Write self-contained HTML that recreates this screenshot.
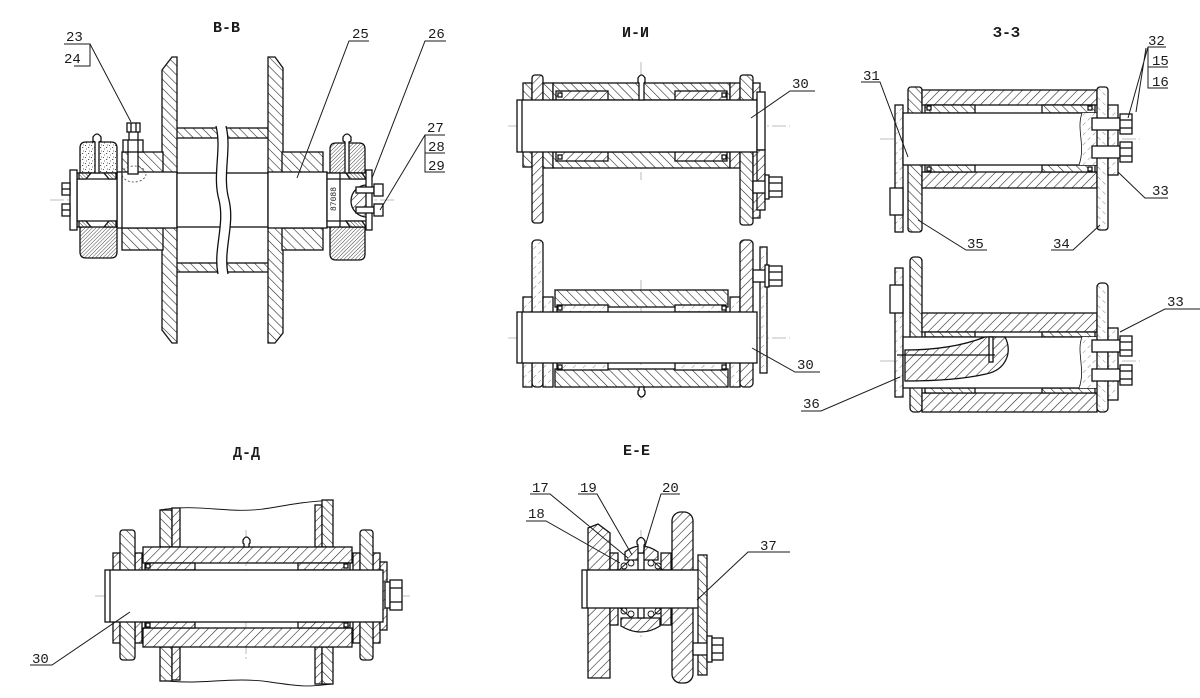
<!DOCTYPE html>
<html><head><meta charset="utf-8">
<style>
html,body{margin:0;padding:0;background:#fff;}
svg{display:block}
text{font-family:"Liberation Mono","DejaVu Sans Mono",monospace;fill:#1a1a1a;font-size:14px;}
.t{font-size:15px;font-weight:bold;}
.o{fill:#fff;stroke:#111;stroke-width:1.3}
.n{fill:none;stroke:#111;stroke-width:1.3}
.a{fill:url(#A);stroke:#111;stroke-width:1.3}
.b{fill:url(#B);stroke:#111;stroke-width:1.3}
.d{fill:url(#D);stroke:#111;stroke-width:1.3}
.e{fill:url(#E);stroke:#111;stroke-width:1.3}
.l{fill:url(#L);stroke:#111;stroke-width:1.3}
.m{fill:url(#M);stroke:#111;stroke-width:1.3}
.s{fill:url(#S);stroke:#111;stroke-width:1.3}
.c{stroke:#aaa;stroke-width:0.8;stroke-dasharray:14 3 2 3;fill:none}
.ld{stroke:#1a1a1a;stroke-width:1;fill:none}
</style></head><body>
<svg width="1200" height="698" viewBox="0 0 1200 698" xmlns="http://www.w3.org/2000/svg">
<defs>
<pattern id="A" width="6.5" height="6.5" patternUnits="userSpaceOnUse" patternTransform="rotate(45)"><rect width="6.5" height="6.5" fill="#fff"/><line x1="0" y1="0" x2="0" y2="6.5" stroke="#222" stroke-width="1.15"/></pattern>
<pattern id="B" width="6.5" height="6.5" patternUnits="userSpaceOnUse" patternTransform="rotate(-45)"><rect width="6.5" height="6.5" fill="#fff"/><line x1="0" y1="0" x2="0" y2="6.5" stroke="#222" stroke-width="1.15"/></pattern>
<pattern id="D" width="2.6" height="2.6" patternUnits="userSpaceOnUse" patternTransform="rotate(45)"><rect width="2.6" height="2.6" fill="#fff"/><line x1="0" y1="0" x2="0" y2="2.6" stroke="#333" stroke-width="0.9"/></pattern>
<pattern id="E" width="2.6" height="2.6" patternUnits="userSpaceOnUse" patternTransform="rotate(-45)"><rect width="2.6" height="2.6" fill="#fff"/><line x1="0" y1="0" x2="0" y2="2.6" stroke="#333" stroke-width="0.9"/></pattern>
<pattern id="L" width="7" height="7" patternUnits="userSpaceOnUse" patternTransform="rotate(45)"><rect width="7" height="7" fill="#fff"/><line x1="0" y1="0" x2="0" y2="7" stroke="#777" stroke-width="0.9" stroke-dasharray="2 3"/></pattern>
<pattern id="M" width="7" height="7" patternUnits="userSpaceOnUse" patternTransform="rotate(-45)"><rect width="7" height="7" fill="#fff"/><line x1="0" y1="0" x2="0" y2="7" stroke="#777" stroke-width="0.9" stroke-dasharray="2 3"/></pattern>
<pattern id="S" width="6" height="6" patternUnits="userSpaceOnUse"><rect width="6" height="6" fill="#fff"/><rect x="1" y="1" width="1" height="1" fill="#555"/><rect x="4" y="3" width="1.2" height="1" fill="#555"/><rect x="2" y="4.5" width="1" height="1" fill="#777"/><rect x="5" y="0.5" width="1" height="1" fill="#777"/></pattern>
</defs>
<rect width="1200" height="698" fill="#fff"/>

<!-- ================= B-B ================= -->
<text class="t" x="213" y="32">B-B</text>
<line class="c" x1="50" y1="200" x2="395" y2="200"/>
<rect class="b" x="173" y="128" width="99" height="10"/>
<rect class="b" x="173" y="263" width="99" height="9"/>
<polygon class="b" points="162,70 172,57 177,57 177,343 172,343 162,330"/>
<polygon class="b" points="268,57 275,57 283,68 283,333 275,343 268,343"/>
<rect class="b" x="122" y="152" width="41" height="21"/>
<rect class="b" x="122" y="228" width="41" height="22"/>
<rect class="b" x="282" y="152" width="41" height="21"/>
<rect class="b" x="282" y="228" width="41" height="22"/>
<rect class="o" x="117" y="172" width="60" height="56"/>
<rect class="o" x="177" y="173" width="91" height="54"/>
<rect class="o" x="268" y="172" width="59" height="56"/>
<line class="n" x1="122" y1="172" x2="122" y2="228"/>
<path d="M216,124 C222,150 212,175 219,200 C225,225 213,250 218,276 L228,276 C223,250 235,225 229,200 C222,175 232,150 226,124 Z" fill="#fff" stroke="none"/>
<path class="n" d="M216,126 C222,150 212,175 219,200 C225,225 213,250 218,274"/>
<path class="n" d="M226,126 C232,150 222,175 229,200 C235,225 223,250 228,274"/>
<rect class="o" x="128" y="150" width="10" height="24"/>
<ellipse cx="134" cy="174" rx="12" ry="8" fill="none" stroke="#444" stroke-width="0.8" stroke-dasharray="2 2"/>
<rect class="o" x="129" y="131" width="9" height="10"/>
<rect class="o" x="127" y="123" width="13" height="9"/>
<line class="n" x1="131" y1="123" x2="131" y2="132"/><line class="n" x1="136" y1="123" x2="136" y2="132"/>
<rect class="o" x="123" y="140" width="20" height="12"/>
<line class="n" x1="128" y1="140" x2="128" y2="152"/><line class="n" x1="138" y1="140" x2="138" y2="152"/>
<path class="s" d="M80,173 L80,148 Q80,142 86,142 L111,142 Q117,142 117,148 L117,173 Z"/>
<path class="d" d="M80,226 L80,252 Q80,258 86,258 L111,258 Q117,258 117,252 L117,226 Z"/>
<rect class="o" x="77" y="173" width="40" height="54"/>
<line class="n" x1="77" y1="179" x2="117" y2="179"/><line class="n" x1="77" y1="221" x2="117" y2="221"/>
<path class="e" d="M79,173 L91,173 L86,179 L79,179 Z"/><path class="e" d="M104,173 L116,173 L116,179 L109,179 Z"/>
<path class="e" d="M79,221 L86,221 L91,227 L79,227 Z"/><path class="e" d="M109,221 L116,221 L116,227 L104,227 Z"/>
<rect class="o" x="70" y="170" width="7" height="60"/>
<rect class="o" x="62" y="183" width="8" height="12"/><line class="n" x1="62" y1="189" x2="70" y2="189"/>
<rect class="o" x="62" y="204" width="8" height="12"/><line class="n" x1="62" y1="210" x2="70" y2="210"/>
<path class="o" d="M95,173 V142 L93,141 V137 Q97,131 101,137 V141 L99,142 V173 Z"/>
<path class="d" d="M330,173 V149 Q330,143 336,143 H359 Q365,143 365,149 V173 Z"/>
<path class="d" d="M330,227 V254 Q330,260 336,260 H359 Q365,260 365,254 V227 Z"/>
<rect class="o" x="327" y="173" width="41" height="54"/>
<line class="n" x1="340" y1="173" x2="340" y2="227"/>
<line class="n" x1="327" y1="179" x2="368" y2="179"/><line class="n" x1="327" y1="221" x2="368" y2="221"/>
<path class="e" d="M346,173 L362,173 L366,179 L350,179 Z"/><path class="e" d="M346,221 L362,221 L366,227 L350,227 Z"/>
<path class="a" d="M367,185 A16,16 0 0 0 367,217 Z"/>
<text x="0" y="0" transform="translate(336,211) rotate(-90)" style="font-size:8px">87088</text>
<rect class="o" x="366" y="170" width="6" height="60"/>
<rect class="o" x="356" y="187" width="18" height="6"/><rect class="o" x="374" y="184" width="9" height="12"/>
<rect class="o" x="356" y="207" width="18" height="6"/><rect class="o" x="374" y="204" width="9" height="12"/>
<path class="o" d="M345,173 V142 L343,141 V137 Q347,131 351,137 V141 L349,142 V173 Z"/>
<text x="66" y="41">23</text><text x="64" y="63">24</text>
<path class="ld" d="M64,44 H90 V66 H74 M90,44 L131,122"/>
<text x="352" y="38">25</text><path class="ld" d="M369,41 H349 L297,178"/>
<text x="428" y="38">26</text><path class="ld" d="M446,41 H425 L372,178"/>
<text x="427" y="132">27</text><text x="428" y="151">28</text><text x="428" y="170">29</text>
<path class="ld" d="M445,135 H425 V172 H445 M425,153 H445 M425,135 L380,210"/>

<!-- ================= И-И ================= -->
<text class="t" x="622" y="37">И-И</text>
<line class="c" x1="508" y1="126" x2="790" y2="126"/>
<line class="c" x1="641" y1="62" x2="641" y2="180"/>
<line class="c" x1="508" y1="338" x2="790" y2="338"/>
<line class="c" x1="641" y1="280" x2="641" y2="400"/>
<rect class="b" x="523" y="83" width="9" height="84"/>
<rect class="a" x="532" y="75" width="11" height="148" rx="3"/>
<rect class="b" x="543" y="83" width="10" height="85"/>
<rect class="b" x="553" y="83" width="177" height="17"/>
<rect class="a" x="556" y="91" width="52" height="9"/>
<rect class="a" x="675" y="91" width="52" height="9"/>
<rect class="b" x="553" y="152" width="177" height="16"/>
<rect class="a" x="556" y="152" width="52" height="9"/>
<rect class="a" x="675" y="152" width="52" height="9"/>
<rect class="a" x="730" y="83" width="10" height="85"/>
<rect class="b" x="740" y="75" width="13" height="150" rx="3"/>
<rect class="a" x="753" y="83" width="7" height="135"/>
<rect class="o" x="517" y="100" width="240" height="52"/>
<path class="n" d="M522,100 V152"/>
<rect class="o" x="757" y="92" width="8" height="58"/>
<rect class="a" x="757" y="150" width="8" height="60"/>
<rect class="o" x="558" y="93" width="4" height="4"/><rect class="o" x="722" y="93" width="4" height="4"/>
<rect class="o" x="558" y="155" width="4" height="4"/><rect class="o" x="722" y="155" width="4" height="4"/>
<path class="o" d="M639,100 V83 L638,82 V78 Q641.5,72 645,78 V82 L644,83 V100 Z"/>
<rect class="o" x="753" y="181" width="14" height="12"/>
<rect class="o" x="765" y="175" width="4" height="24"/>
<rect class="o" x="769" y="177" width="13" height="20"/><line class="n" x1="769" y1="183" x2="782" y2="183"/><line class="n" x1="769" y1="191" x2="782" y2="191"/>
<rect class="l" x="532" y="240" width="11" height="147" rx="4"/>
<rect class="l" x="523" y="297" width="9" height="90"/>
<rect class="l" x="543" y="297" width="10" height="90"/>
<rect class="b" x="555" y="290" width="173" height="17"/>
<rect class="l" x="557" y="305" width="51" height="7"/>
<rect class="l" x="675" y="305" width="51" height="7"/>
<rect class="b" x="555" y="369" width="173" height="18"/>
<rect class="l" x="557" y="363" width="51" height="7"/>
<rect class="l" x="675" y="363" width="51" height="7"/>
<rect class="l" x="730" y="297" width="10" height="90"/>
<rect class="a" x="740" y="240" width="13" height="147" rx="4"/>
<rect class="o" x="517" y="312" width="240" height="51"/>
<path class="n" d="M522,312 V363"/>
<rect class="l" x="760" y="247" width="7" height="126"/>
<rect class="o" x="558" y="306" width="4" height="4"/><rect class="o" x="722" y="306" width="4" height="4"/>
<rect class="o" x="558" y="365" width="4" height="4"/><rect class="o" x="722" y="365" width="4" height="4"/>
<path class="o" d="M639,387 V390 L638,391 V394 Q641.5,400 645,394 V391 L644,390 V387 Z"/>
<rect class="o" x="753" y="270" width="14" height="12"/>
<rect class="o" x="765" y="265" width="4" height="22"/>
<rect class="o" x="769" y="266" width="13" height="20"/><line class="n" x1="769" y1="272" x2="782" y2="272"/><line class="n" x1="769" y1="280" x2="782" y2="280"/>
<text x="792" y="88">30</text><path class="ld" d="M815,91 H790 L751,118"/>
<text x="797" y="369">30</text><path class="ld" d="M820,372 H795 L752,348"/>

<!-- ================= З-З ================= -->
<text class="t" x="993" y="37">З-З</text>
<line class="c" x1="880" y1="139" x2="1140" y2="139"/>
<line class="c" x1="880" y1="361" x2="1140" y2="361"/>
<rect class="l" x="895" y="105" width="8" height="127"/>
<rect class="o" x="890" y="188" width="13" height="27"/>
<rect class="b" x="908" y="87" width="14" height="145" rx="3"/>
<rect class="a" x="922" y="90" width="175" height="15"/>
<rect class="b" x="925" y="105" width="50" height="8"/>
<rect class="b" x="1042" y="105" width="53" height="8"/>
<rect class="a" x="922" y="172" width="175" height="16"/>
<rect class="b" x="925" y="165" width="50" height="7"/>
<rect class="b" x="1042" y="165" width="53" height="7"/>
<rect class="o" x="903" y="113" width="194" height="52"/>
<path class="l" d="M1082,113 C1076,130 1086,145 1079,165 L1097,165 L1097,113 Z" style="stroke:none"/>
<path class="n" d="M1082,113 C1076,130 1086,145 1079,165" style="stroke-width:0.8"/>
<rect class="m" x="1097" y="87" width="11" height="143" rx="3"/>
<rect class="l" x="1108" y="105" width="10" height="70"/>
<rect class="o" x="1092" y="118" width="28" height="12"/><rect class="o" x="1092" y="146" width="28" height="12"/>
<rect class="o" x="1120" y="114" width="12" height="20"/><line class="n" x1="1120" y1="120" x2="1132" y2="120"/><line class="n" x1="1120" y1="128" x2="1132" y2="128"/>
<rect class="o" x="1120" y="142" width="12" height="20"/><line class="n" x1="1120" y1="148" x2="1132" y2="148"/><line class="n" x1="1120" y1="156" x2="1132" y2="156"/>
<rect class="o" x="927" y="106" width="4" height="4"/><rect class="o" x="1088" y="106" width="4" height="4"/>
<rect class="o" x="927" y="167" width="4" height="4"/><rect class="o" x="1088" y="167" width="4" height="4"/>
<rect class="b" x="910" y="257" width="12" height="155" rx="4"/>
<rect class="l" x="895" y="268" width="8" height="129"/>
<rect class="o" x="890" y="285" width="13" height="28"/>
<rect class="a" x="922" y="313" width="175" height="19"/>
<rect class="b" x="925" y="332" width="50" height="5"/>
<rect class="b" x="1042" y="332" width="53" height="5"/>
<rect class="a" x="922" y="393" width="175" height="19"/>
<rect class="b" x="925" y="388" width="50" height="5"/>
<rect class="b" x="1042" y="388" width="53" height="5"/>
<rect class="o" x="903" y="337" width="194" height="51"/>
<path class="a" d="M905,350 C935,350 962,346 985,337 L1005,337 C1013,352 1006,370 986,374 C960,380 930,381 905,381 Z"/>
<rect class="o" x="989" y="337" width="4" height="25"/>
<line class="n" x1="897" y1="355" x2="995" y2="355"/>
<path class="l" d="M1082,337 C1076,352 1086,370 1079,388 L1097,388 L1097,337 Z" style="stroke:none"/>
<path class="n" d="M1082,337 C1076,352 1086,370 1079,388" style="stroke-width:0.8"/>
<rect class="m" x="1097" y="283" width="11" height="129" rx="4"/>
<rect class="l" x="1108" y="328" width="10" height="72"/>
<rect class="o" x="1092" y="340" width="28" height="12"/><rect class="o" x="1092" y="369" width="28" height="12"/>
<rect class="o" x="1120" y="336" width="12" height="20"/><line class="n" x1="1120" y1="342" x2="1132" y2="342"/><line class="n" x1="1120" y1="350" x2="1132" y2="350"/>
<rect class="o" x="1120" y="365" width="12" height="20"/><line class="n" x1="1120" y1="371" x2="1132" y2="371"/><line class="n" x1="1120" y1="379" x2="1132" y2="379"/>
<text x="1148" y="45">32</text><text x="1152" y="65">15</text><text x="1152" y="86">16</text>
<path class="ld" d="M1166,47 H1148 V88 H1168 M1148,67 H1168 M1148,47 L1128,118 M1146,48 L1136,112"/>
<text x="863" y="80">31</text><path class="ld" d="M861,82 H880 L908,157"/>
<text x="1152" y="195">33</text><path class="ld" d="M1168,198 H1145 L1118,172"/>
<text x="967" y="248">35</text><path class="ld" d="M987,250 H966 L918,220"/>
<text x="1053" y="248">34</text><path class="ld" d="M1051,250 H1073 L1100,225"/>
<text x="1167" y="306">33</text><path class="ld" d="M1200,309 H1165 L1120,332"/>
<text x="803" y="408">36</text><path class="ld" d="M801,411 H821 L900,377"/>

<!-- ================= Д-Д ================= -->
<text class="t" x="233" y="457">Д-Д</text>
<line class="c" x1="95" y1="596" x2="410" y2="596"/>
<line class="c" x1="246" y1="530" x2="246" y2="660"/>
<path class="n" d="M160,510 C200,503 230,515 270,508 S310,502 333,500" style="stroke-width:0.9"/>
<path class="n" d="M160,680 C200,686 230,676 270,682 S310,686 333,684" style="stroke-width:0.9"/>
<rect class="b" x="160" y="510" width="12" height="37"/><rect class="a" x="172" y="508" width="8" height="39"/>
<rect class="b" x="160" y="647" width="12" height="34"/><rect class="a" x="172" y="647" width="8" height="33"/>
<rect class="a" x="315" y="505" width="7" height="42"/><rect class="b" x="322" y="500" width="11" height="47"/>
<rect class="a" x="315" y="647" width="7" height="37"/><rect class="b" x="322" y="647" width="11" height="37"/>
<rect class="a" x="143" y="547" width="209" height="16"/>
<rect class="a" x="145" y="563" width="50" height="7"/><rect class="a" x="298" y="563" width="52" height="7"/>
<rect class="a" x="143" y="628" width="209" height="19"/>
<rect class="a" x="145" y="622" width="50" height="6"/><rect class="a" x="298" y="622" width="52" height="6"/>
<rect class="a" x="113" y="553" width="7" height="90"/><rect class="a" x="135" y="553" width="7" height="90"/>
<rect class="b" x="120" y="530" width="15" height="130" rx="3"/>
<rect class="a" x="353" y="553" width="7" height="90"/><rect class="a" x="373" y="553" width="7" height="90"/>
<rect class="b" x="360" y="530" width="13" height="130" rx="3"/>
<rect class="a" x="380" y="562" width="7" height="68"/>
<rect class="o" x="105" y="570" width="278" height="52"/>
<path class="n" d="M110,570 V622"/>
<rect class="o" x="146" y="564" width="4" height="4"/><rect class="o" x="344" y="564" width="4" height="4"/>
<rect class="o" x="146" y="623" width="4" height="4"/><rect class="o" x="344" y="623" width="4" height="4"/>
<path class="o" d="M244,547 V544 L243,543 V540 Q246.5,534 250,540 V543 L249,544 V547 Z"/>
<rect class="o" x="385" y="582" width="5" height="26"/>
<rect class="o" x="390" y="580" width="12" height="30"/><line class="n" x1="390" y1="588" x2="402" y2="588"/><line class="n" x1="390" y1="602" x2="402" y2="602"/>
<text x="32" y="663">30</text><path class="ld" d="M30,665 H52 L130,612"/>

<!-- ================= E-E ================= -->
<text class="t" x="623" y="455">E-E</text>
<line class="c" x1="641" y1="530" x2="641" y2="640"/>
<polygon class="a" points="588,528 598,524 610,533 610,678 588,678"/>
<rect class="a" x="672" y="512" width="21" height="171" rx="9"/>
<rect class="a" x="610" y="553" width="8" height="17"/><rect class="a" x="610" y="607" width="8" height="18"/>
<rect class="a" x="661" y="553" width="10" height="17"/><rect class="a" x="661" y="607" width="10" height="18"/>
<path class="a" d="M625,560 L625,552 Q641,540 658,552 L658,560 Z"/>
<path class="a" d="M621,618 L660,618 L660,626 Q641,638 621,626 Z"/>
<g fill="#fff" stroke="#111" stroke-width="0.9">
<circle cx="624" cy="566" r="3"/><circle cx="631" cy="563" r="3"/><circle cx="651" cy="563" r="3"/><circle cx="658" cy="566" r="3"/>
<circle cx="624" cy="611" r="3"/><circle cx="631" cy="614" r="3"/><circle cx="651" cy="614" r="3"/><circle cx="658" cy="611" r="3"/>
</g>
<path class="n" d="M619,570 L630,560 M663,570 L652,560 M619,607 L630,617 M663,607 L652,617" style="stroke-width:0.9"/>
<rect class="o" x="638" y="553" width="6" height="17"/><rect class="o" x="638" y="607" width="6" height="11"/>
<path class="o" d="M638,553 V545 L637,544 V541 Q641,534 645,541 V544 L644,545 V553 Z"/>
<rect class="o" x="582" y="570" width="118" height="38"/>
<path class="n" d="M587,570 V608"/>
<rect class="b" x="698" y="555" width="9" height="120"/>
<rect class="o" x="693" y="643" width="18" height="12"/>
<rect class="o" x="707" y="636" width="5" height="26"/>
<rect class="o" x="712" y="638" width="11" height="22"/><line class="n" x1="712" y1="645" x2="723" y2="645"/><line class="n" x1="712" y1="653" x2="723" y2="653"/>
<text x="532" y="492">17</text><path class="ld" d="M530,494 H550 L628,558"/>
<text x="580" y="492">19</text><path class="ld" d="M578,494 H597 L632,555"/>
<text x="662" y="492">20</text><path class="ld" d="M680,494 H661 L643,553"/>
<text x="528" y="518">18</text><path class="ld" d="M526,521 H546 L620,563"/>
<text x="760" y="550">37</text><path class="ld" d="M790,552 H748 L697,600"/>
</svg>
</body></html>
